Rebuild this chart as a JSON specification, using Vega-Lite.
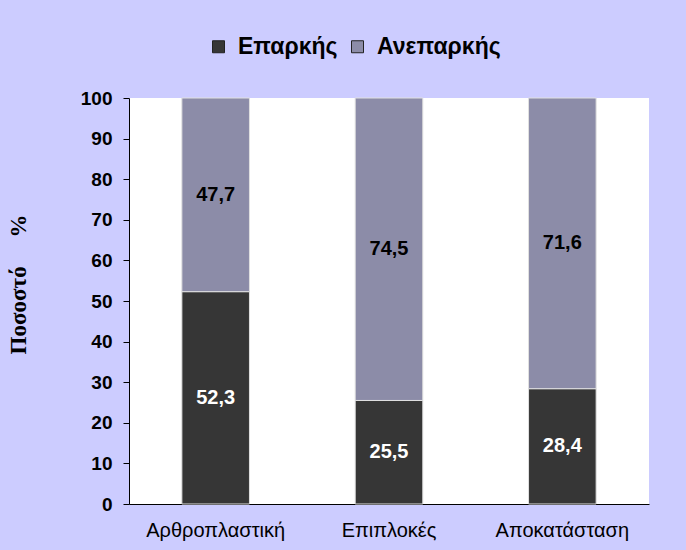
{
  "$schema": "https://vega.github.io/schema/vega-lite/v6.json",
  "width": 520,
  "height": 406,
  "autosize": {"type": "none"},
  "padding": {"left": 129, "top": 98, "right": 37, "bottom": 46},
  "background": "#ccccff",
  "config": {
    "view": {"fill": "white", "stroke": null},
    "font": "Liberation Sans",
    "locale": {"number": {"decimal": ",", "thousands": ".", "grouping": [3], "currency": ["", " €"]}}
  },
  "data": {
    "values": [
      {"cat": "Αρθροπλαστική", "group": "Επαρκής", "v": 52.3, "ord": 1},
      {"cat": "Αρθροπλαστική", "group": "Ανεπαρκής", "v": 47.7, "ord": 2},
      {"cat": "Επιπλοκές", "group": "Επαρκής", "v": 25.5, "ord": 1},
      {"cat": "Επιπλοκές", "group": "Ανεπαρκής", "v": 74.5, "ord": 2},
      {"cat": "Αποκατάσταση", "group": "Επαρκής", "v": 28.4, "ord": 1},
      {"cat": "Αποκατάσταση", "group": "Ανεπαρκής", "v": 71.6, "ord": 2}
    ]
  },
  "transform": [
    {"stack": "v", "groupby": ["cat"], "sort": [{"field": "ord", "order": "ascending"}], "as": ["y0", "y1"]}
  ],
  "encoding": {
    "x": {
      "field": "cat",
      "type": "nominal",
      "sort": ["Αρθροπλαστική", "Επιπλοκές", "Αποκατάσταση"],
      "scale": {"paddingInner": 0.61, "paddingOuter": 0.305},
      "axis": {
        "title": null,
        "labelAngle": 0,
        "labelFontSize": 20,
        "labelColor": "black",
        "labelPadding": 16,
        "ticks": false,
        "domainColor": "black",
        "domainWidth": 1
      }
    }
  },
  "layer": [
    {
      "mark": {"type": "bar", "stroke": "#e0e0e0", "strokeWidth": 1},
      "encoding": {
        "y": {
          "field": "y0",
          "type": "quantitative",
          "scale": {"domain": [0, 100], "nice": false},
          "axis": {
            "values": [0, 10, 20, 30, 40, 50, 60, 70, 80, 90, 100],
            "grid": false,
            "title": "Ποσοστό\u00a0\u00a0\u00a0\u00a0\u00a0%",
            "titleFont": "Liberation Serif",
            "titleFontSize": 23,
            "titleFontWeight": "bold",
            "titleColor": "black",
            "titleAngle": -90,
            "titleAlign": "center",
            "titleY": 186,
            "titlePadding": 50,
            "labelFontSize": 19,
            "labelFontWeight": "bold",
            "labelColor": "black",
            "labelPadding": 11,
            "tickSize": 6,
            "tickColor": "black",
            "domainColor": "black"
          }
        },
        "y2": {"field": "y1"},
        "color": {
          "field": "group",
          "type": "nominal",
          "scale": {"domain": ["Επαρκής", "Ανεπαρκής"], "range": ["#363636", "#8c8ca8"]},
          "legend": {
            "title": null,
            "orient": "none",
            "direction": "horizontal",
            "legendX": 78,
            "legendY": -63,
            "symbolType": "square",
            "symbolSize": 144,
            "symbolStrokeColor": "#222222",
            "symbolStrokeWidth": 1,
            "labelFontSize": 23,
            "labelFontWeight": "bold",
            "labelColor": "black",
            "labelOffset": 8,
            "columnPadding": 8
          }
        },
        "order": {"field": "ord", "type": "quantitative"}
      }
    },
    {
      "transform": [{"calculate": "(datum.y0 + datum.y1) / 2", "as": "mid"}],
      "mark": {"type": "text", "fontWeight": "bold", "fontSize": 20, "baseline": "middle"},
      "encoding": {
        "y": {"field": "mid", "type": "quantitative"},
        "text": {"field": "v", "type": "quantitative", "format": ".1f"},
        "color": {"condition": {"test": "datum.group === 'Επαρκής'", "value": "white"}, "value": "black"}
      }
    }
  ]
}
